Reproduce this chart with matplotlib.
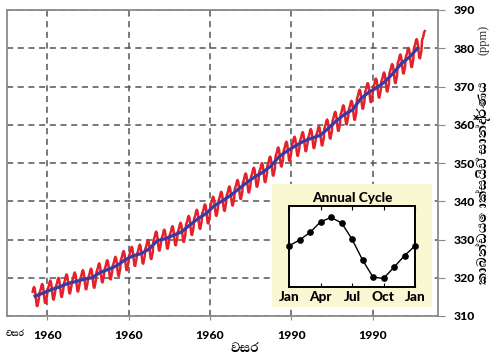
import matplotlib
matplotlib.use("Agg")
import matplotlib.pyplot as plt

# annual mean CO2 (ppm), Mauna Loa
years = list(range(1958, 2007))
annual_ppm = [315.2, 316.0, 316.9, 317.6, 318.5, 319.0, 319.6, 320.0, 321.4, 322.2,
              323.1, 324.6, 325.7, 326.3, 327.5, 329.7, 330.2, 331.1, 332.0, 333.8,
              335.4, 336.8, 338.8, 340.1, 341.5, 343.2, 344.9, 346.4, 347.6, 349.3,
              351.7, 353.2, 354.5, 355.7, 356.5, 357.2, 359.0, 361.0, 362.7, 363.9,
              366.8, 368.5, 369.7, 371.3, 373.5, 376.0, 377.7, 380.0, 382.1]

# seasonal departure from the annual mean (ppm), Jan..Dec
months = ["Jan", "Feb", "Mar", "Apr", "May", "Jun",
          "Jul", "Aug", "Sep", "Oct", "Nov", "Dec"]
cycle_ppm = [0.05, 0.53, 1.15, 2.02, 2.38, 1.94, 0.61, -1.10, -2.51, -2.62, -1.70, -0.75]

xtick_years = [1960, 1970, 1980, 1990, 2000]
xtick_labels = ["1960", "1960", "1960", "1990", "1990"]
ytick_vals = [310, 320, 330, 340, 350, 360, 370, 380, 390]
inset_ticks = [0, 3, 6, 9, 12]
inset_labels = ["Jan", "Apr", "Jul", "Oct", "Jan"]

ylabel = "කාබන්ඩයොක්සයිඩ් සාන්ද්‍රණය"
xlabel = "වසර"

sin_family = ["Abhaya Libre", "DejaVu Sans"]
num_family = ["Lato", "DejaVu Sans"]

# monthly series: March 1958 to May 2006
mx, my = [], []
for i, yr in enumerate(years):
    for m in range(12):
        if (yr == 1958 and m < 2) or (yr == 2006 and m > 4):
            continue
        mx.append(yr + (m + 0.5) / 12)
        my.append(annual_ppm[i] + cycle_ppm[m])

W, H = 490, 355
fig = plt.figure(figsize=(W / 100, H / 100), dpi=100)
ax = fig.add_axes([7 / W, 1 - 316 / H, 431 / W, 306 / H])

ax.plot(mx, my, color="#e3222a", lw=1.8, zorder=3)
ax.plot([y + 0.5 for y in years[:-1]], annual_ppm[:-1], color="#3a3aa5", lw=2.3, zorder=4)

ax.set_xlim(1955.05, 2008.0)
ax.set_ylim(310, 390)
ax.set_xticks(xtick_years)
ax.set_xticklabels(xtick_labels, family=num_family, fontweight="black", fontsize=8.8)
ax.set_yticks(ytick_vals)
ax.set_yticklabels([str(v) for v in ytick_vals], family=num_family,
                   fontweight="black", fontsize=8.8)
ax.yaxis.tick_right()
ax.tick_params(axis="y", length=5, color="#888888", pad=6)
ax.tick_params(axis="x", length=3, color="#888888", pad=7)
ax.grid(True, color="#555555", ls=(0, (4, 3)), lw=1.1)
for s in ax.spines.values():
    s.set_color("#8a8a8a")
    s.set_linewidth(1.3)

fig.text(15 / W, 1 - 333 / H, xlabel, family=sin_family, fontweight="bold",
         fontsize=8, ha="center", va="center")
fig.text(245 / W, 1 - 349 / H, xlabel, family=sin_family, fontweight="bold",
         fontsize=12, ha="center", va="center")
fig.text(483 / W, 1 - 183 / H, ylabel, family=sin_family, fontweight="bold",
         fontsize=12.5, rotation=90, ha="center", va="center")
fig.text(483 / W, 1 - 40 / H, "(ppm)", family=["Liberation Serif"], fontsize=9,
         rotation=90, ha="center", va="center", color="#333333")

# annual cycle inset
bg = fig.add_axes([272 / W, 1 - 307 / H, 160 / W, 123 / H])
bg.set_facecolor("#faf7d3")
bg.set_xticks([])
bg.set_yticks([])
for s in bg.spines.values():
    s.set_visible(False)
bg.text(0.5, 0.885, "Annual Cycle", transform=bg.transAxes, ha="center", va="center",
        family=num_family, fontweight="black", fontsize=9.8)

ins = fig.add_axes([289 / W, 1 - 287 / H, 126 / W, 81 / H])
cx = list(range(13))
cy = cycle_ppm + cycle_ppm[:1]
ins.plot(cx, cy, color="black", lw=1.0, marker="o", ms=3.8, clip_on=False)
ins.set_xlim(0, 12)
ins.set_ylim(-3.32, 3.32)
ins.set_xticks(inset_ticks)
ins.set_xticklabels(inset_labels, family=num_family, fontweight="black", fontsize=9.8)
ins.set_yticks([])
ins.tick_params(axis="x", direction="in", length=3, pad=3, top=True)
for s in ins.spines.values():
    s.set_color("black")
    s.set_linewidth(1.4)

fig.savefig("out.png", dpi=100)
